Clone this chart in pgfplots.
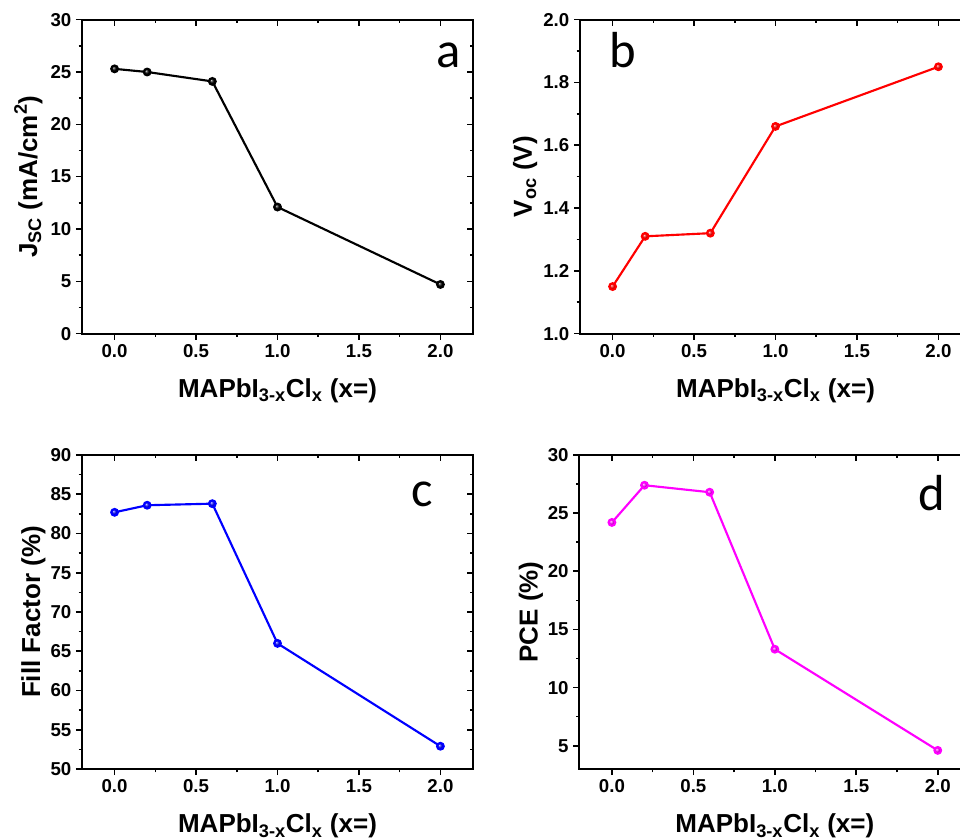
\documentclass[border=0pt]{standalone}
\usepackage{pgfplots}
\pgfplotsset{compat=1.18}
\usepackage{fontspec}
\setmainfont{Liberation Sans}
\newfontfamily\letterfont{Carlito}

\definecolor{cblack}{RGB}{0,0,0}
\definecolor{cred}{RGB}{255,0,0}
\definecolor{cblue}{RGB}{0,0,255}
\definecolor{cmag}{RGB}{255,0,255}

\pgfplotsset{
  panel/.style={
    scale only axis, width=293.25pt, height=235.5pt,
    xmin=-0.2, xmax=2.2, xtick={0,0.5,1,1.5,2},
    minor x tick num=1, minor y tick num=1,
    axis line style={line width=1.5pt},
    tick style={black, line width=1.2pt},
    major tick length=4.5pt, minor tick length=2.5pt,
    /pgf/number format/assume math mode=true,
    tick label style={font=\bfseries\fontsize{14}{16}\selectfont},
    label style={font=\bfseries\fontsize{19.5}{22}\selectfont},
    xlabel={MAPbI\textsubscript{3-x}Cl\textsubscript{x} (x=)},
    xlabel style={at={(axis description cs:0.5,-0.2038)}, anchor=base},
    xticklabel style={/pgf/number format/.cd, fixed, fixed zerofill, precision=1},
  },
  outer/.style={panel, xtick pos=left, ytick pos=left, tick align=outside},
  inner/.style={panel, xtick pos=right, ytick pos=right, tick align=inside,
    xticklabels={}, yticklabels={}, xlabel={}, ylabel={}},
  series/.style={line width=1.6pt, color=#1, mark=ball, mark size=2.5pt,
    mark options={ball color=#1, draw=none}},
}

\begin{document}
\begin{tikzpicture}
% (a) short-circuit current density
\begin{axis}[outer, at={(61.5pt,379pt)}, ymin=0, ymax=30, ytick={0,5,...,30},
  ylabel={J\textsubscript{SC} (mA/cm\textsuperscript{2})},
  ylabel style={at={(axis description cs:-0.115,0.5)}, anchor=base}]
  \addplot[series=cblack] coordinates {(0,25.3) (0.2,25.0) (0.6,24.1) (1.0,12.1) (2.0,4.7)};
\end{axis}
\begin{axis}[inner, at={(61.5pt,379pt)}, ymin=0, ymax=30, ytick={0,5,...,30}]
\end{axis}

% (b) open-circuit voltage
\begin{axis}[outer, at={(435pt,379pt)}, ymin=1.0, ymax=2.0, ytick={1.0,1.2,1.4,1.6,1.8,2.0},
  yticklabel style={/pgf/number format/.cd, fixed, fixed zerofill, precision=1},
  ylabel={V\textsubscript{oc} (V)},
  ylabel style={at={(axis description cs:-0.123,0.5)}, anchor=base}]
  \addplot[series=cred] coordinates {(0,1.15) (0.2,1.31) (0.6,1.32) (1.0,1.66) (2.0,1.85)};
\end{axis}
\begin{axis}[inner, at={(435pt,379pt)}, ymin=1.0, ymax=2.0, ytick={1.0,1.2,1.4,1.6,1.8,2.0}]
\end{axis}

% (c) fill factor
\begin{axis}[outer, at={(61.5pt,52.5pt)}, ymin=50, ymax=90, ytick={50,55,...,90},
  ylabel={Fill Factor (\%)},
  ylabel style={at={(axis description cs:-0.107,0.5)}, anchor=base}]
  \addplot[series=cblue] coordinates {(0,82.7) (0.2,83.6) (0.6,83.8) (1.0,66.0) (2.0,52.9)};
\end{axis}
\begin{axis}[inner, at={(61.5pt,52.5pt)}, ymin=50, ymax=90, ytick={50,55,...,90}]
\end{axis}

% (d) power conversion efficiency
\begin{axis}[outer, at={(434.5pt,52.5pt)}, ymin=3, ymax=30, ytick={5,10,...,30},
  ylabel={PCE (\%)},
  ylabel style={at={(axis description cs:-0.107,0.5)}, anchor=base}]
  \addplot[series=cmag] coordinates {(0,24.2) (0.2,27.4) (0.6,26.8) (1.0,13.3) (2.0,4.6)};
\end{axis}
\begin{axis}[inner, at={(434.5pt,52.5pt)}, ymin=3, ymax=30, ytick={5,10,...,30}]
\end{axis}

% panel letters
\begin{scope}[every node/.style={inner sep=0pt, font=\letterfont\fontsize{38}{40}\selectfont}]
  \node[anchor=base east] at (345.75pt,578.25pt) {a};
  \node[anchor=base west] at (456.75pt,578.25pt) {b};
  \node[anchor=base east] at (324.75pt,249pt) {c};
  \node[anchor=base east] at (708.75pt,246pt) {d};
\end{scope}

\pgfresetboundingbox
\path[use as bounding box] (0,0) rectangle (720pt,629.25pt);
\end{tikzpicture}
\end{document}
